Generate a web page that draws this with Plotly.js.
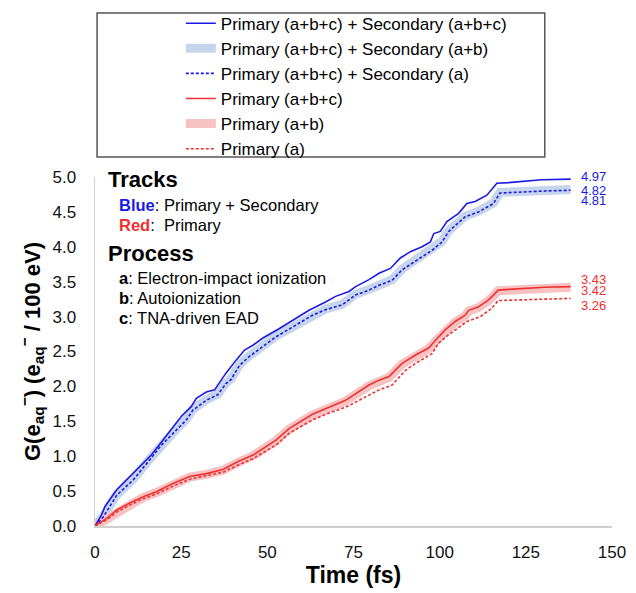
<!DOCTYPE html>
<html>
<head>
<meta charset="utf-8">
<script src="https://cdn.plot.ly/plotly-3.0.1.min.js"></script>
<style>
  html, body { margin: 0; padding: 0; background: #fff; }
  #chart { width: 636px; height: 593px; }
</style>
</head>
<body>
<div id="chart"></div>
<script>
// Cumulative G-value of hydrated electrons versus time (fs)

// Primary (a+b+c) + Secondary (a+b+c)
const tBlueABC = [0, 1.9, 2.9, 4.8, 6.3, 8.7, 10.1, 13, 16.4, 19.7, 22.6, 25, 27.9, 29.4, 32.3, 34.7, 36.6, 38, 41, 43.4, 45.8, 48.6, 53.5, 58.3, 62.1, 66.9, 69.8, 73.7, 75.6, 79.5, 82.4, 85.7, 88.6, 91.5, 94.9, 97.3, 98.3, 100.2, 102.1, 105.5, 107.9, 110.3, 113.7, 116.6, 120, 129.6, 138];
const gBlueABC = [0, 0.16, 0.28, 0.42, 0.52, 0.64, 0.71, 0.85, 1.02, 1.23, 1.42, 1.57, 1.71, 1.83, 1.92, 1.95, 2.09, 2.19, 2.38, 2.52, 2.59, 2.69, 2.83, 2.98, 3.09, 3.21, 3.29, 3.36, 3.43, 3.53, 3.62, 3.69, 3.84, 3.93, 4.00, 4.07, 4.19, 4.22, 4.36, 4.48, 4.62, 4.65, 4.74, 4.91, 4.92, 4.96, 4.97];

// Primary (a+b+c) + Secondary (a+b)
const tBlueAB = [0, 2.4, 6.3, 11.1, 15.9, 19.3, 23.1, 26.5, 28.4, 32.3, 35.6, 38, 39.5, 41.9, 44.8, 52.5, 58, 63.1, 67, 71.8, 75.6, 79.5, 82.4, 86.2, 89.1, 93, 97.8, 100.7, 102.6, 107.4, 111.3, 115.6, 117.5, 130.5, 138];
const gBlueAB = [0, 0.14, 0.45, 0.67, 0.96, 1.17, 1.36, 1.53, 1.67, 1.81, 1.89, 2.05, 2.11, 2.31, 2.44, 2.72, 2.88, 3.03, 3.11, 3.18, 3.32, 3.39, 3.46, 3.53, 3.68, 3.81, 3.96, 4.08, 4.23, 4.44, 4.51, 4.63, 4.78, 4.81, 4.82];

// Primary (a+b+c) + Secondary (a)
const tBlueA = [0, 2.4, 6.3, 11.1, 15.9, 19.3, 23.1, 26.5, 28.4, 32.3, 35.6, 38, 39.5, 41.9, 44.8, 52.5, 58, 63.1, 67, 71.8, 75.6, 79.5, 82.4, 86.2, 89.1, 93, 97.8, 100.7, 102.6, 107.4, 111.3, 115.6, 117.5, 130.5, 138];
const gBlueA = [0, 0.13, 0.44, 0.66, 0.95, 1.16, 1.35, 1.52, 1.66, 1.80, 1.88, 2.04, 2.10, 2.30, 2.43, 2.71, 2.87, 3.02, 3.10, 3.17, 3.31, 3.38, 3.45, 3.52, 3.67, 3.80, 3.95, 4.07, 4.22, 4.43, 4.50, 4.62, 4.77, 4.80, 4.81];

// Primary (a+b+c)
const tRedABC = [0, 3.4, 6.3, 10.1, 14, 17.8, 22.6, 27.5, 32.3, 37.1, 41.4, 46, 52.5, 56.4, 63.1, 68, 72.7, 79.5, 82.4, 85.3, 89.1, 93, 96.8, 98.8, 101.6, 104.5, 107.4, 108.4, 111.3, 114.2, 117, 120, 130.5, 138];
const gRedABC = [0, 0.11, 0.23, 0.33, 0.42, 0.49, 0.61, 0.71, 0.75, 0.81, 0.92, 1.02, 1.23, 1.40, 1.60, 1.70, 1.80, 2.02, 2.09, 2.14, 2.33, 2.45, 2.55, 2.66, 2.81, 2.93, 3.02, 3.09, 3.14, 3.24, 3.38, 3.39, 3.42, 3.43];

// Primary (a+b)
const tRedAB = [0, 3.4, 6.3, 10.1, 14, 17.8, 22.6, 27.5, 32.3, 37.1, 41.4, 46, 52.5, 56.4, 63.1, 68, 72.7, 79.5, 82.4, 85.3, 89.1, 93, 96.8, 98.8, 101.6, 104.5, 107.4, 108.4, 111.3, 114.2, 117, 120, 130.5, 138];
const gRedAB = [0, 0.10, 0.22, 0.32, 0.41, 0.48, 0.60, 0.70, 0.74, 0.80, 0.91, 1.01, 1.22, 1.39, 1.59, 1.69, 1.79, 2.01, 2.08, 2.13, 2.32, 2.44, 2.54, 2.65, 2.80, 2.92, 3.01, 3.08, 3.13, 3.23, 3.37, 3.38, 3.41, 3.42];

// Primary (a)
const tRedA = [0, 3.4, 6.3, 10.1, 14, 17.8, 22.6, 27.5, 32.3, 37.1, 41.4, 46, 52.5, 56.4, 63.1, 68, 72.7, 79.5, 82.4, 86.2, 90.1, 93, 97.8, 99.7, 102.6, 107.9, 111.8, 115.1, 117, 130.5, 138];
const gRedA = [0, 0.09, 0.20, 0.30, 0.39, 0.46, 0.57, 0.67, 0.72, 0.77, 0.87, 0.97, 1.16, 1.33, 1.52, 1.62, 1.70, 1.88, 1.95, 2.02, 2.23, 2.33, 2.47, 2.62, 2.74, 2.93, 3.00, 3.12, 3.23, 3.25, 3.26];

const legendNames = [
  'Primary (a+b+c) + Secondary (a+b+c)',
  'Primary (a+b+c) + Secondary (a+b)',
  'Primary (a+b+c) + Secondary (a)',
  'Primary (a+b+c)',
  'Primary (a+b)',
  'Primary (a)'
];

const xTickVals = [0, 25, 50, 75, 100, 125, 150];
const yTickVals = [0, 0.5, 1, 1.5, 2, 2.5, 3, 3.5, 4, 4.5, 5];

const BLUE = '#1a1ae6';
const BLUE_LIGHT = '#c6d4ec';
const RED = '#f03030';
const RED_LIGHT = '#f8c2c2';
const FONT = 'Liberation Sans, Arial, sans-serif';

// wide pale bands go underneath; legendrank keeps the legend order
const traces = [
  { x: tBlueAB, y: gBlueAB, name: legendNames[1], legendrank: 2, mode: 'lines',
    line: { color: BLUE_LIGHT, width: 9 } },
  { x: tRedAB, y: gRedAB, name: legendNames[4], legendrank: 5, mode: 'lines',
    line: { color: RED_LIGHT, width: 9 } },
  { x: tBlueABC, y: gBlueABC, name: legendNames[0], legendrank: 1, mode: 'lines',
    line: { color: BLUE, width: 1.6 } },
  { x: tBlueA, y: gBlueA, name: legendNames[2], legendrank: 3, mode: 'lines',
    line: { color: BLUE, width: 1.6, dash: '3px,2px' } },
  { x: tRedABC, y: gRedABC, name: legendNames[3], legendrank: 4, mode: 'lines',
    line: { color: RED, width: 1.6 } },
  { x: tRedA, y: gRedA, name: legendNames[5], legendrank: 6, mode: 'lines',
    line: { color: RED, width: 1.6, dash: '3px,2px' } }
];

// end-value labels, taken from the last point of each series
function endLabel(tArr, gArr, color, yshift) {
  const v = gArr[gArr.length - 1];
  return {
    x: tArr[tArr.length - 1], y: v, xref: 'x', yref: 'y',
    text: v.toFixed(2), showarrow: false, xanchor: 'left', yanchor: 'middle',
    xshift: 8, yshift: yshift,
    font: { family: FONT, size: 13, color: color }
  };
}

const txt = (text, y, size, x) => ({
  x: x, y: y, xref: 'paper', yref: 'paper', text: text, showarrow: false,
  xanchor: 'left', yanchor: 'middle', align: 'left',
  font: { family: FONT, size: size, color: '#000' }
});

const annotations = [
  endLabel(tBlueABC, gBlueABC, BLUE, 3),
  endLabel(tBlueAB, gBlueAB, BLUE, -1),
  endLabel(tBlueA, gBlueA, BLUE, -10),
  endLabel(tRedABC, gRedABC, RED, 7),
  endLabel(tRedAB, gRedAB, RED, -3),
  endLabel(tRedA, gRedA, RED, -7),
  txt('<b>Tracks</b>', 0.992, 22, 0.021),
  txt('<b><span style="color:#1a1ae6">Blue</span></b>: Primary + Secondary', 0.920, 16.5, 0.043),
  txt('<b><span style="color:#f03030">Red</span></b>:  Primary', 0.863, 16.5, 0.043),
  txt('<b>Process</b>', 0.782, 22, 0.021),
  txt('<b>a</b>: Electron-impact ionization', 0.710, 16.5, 0.043),
  txt('<b>b</b>: Autoionization', 0.653, 16.5, 0.043),
  txt('<b>c</b>: TNA-driven EAD', 0.596, 16.5, 0.043)
];

const layout = {
  width: 636, height: 593,
  margin: { l: 95, r: 24, t: 177, b: 67, autoexpand: false },
  paper_bgcolor: '#fff', plot_bgcolor: '#fff',
  font: { family: FONT, size: 16, color: '#111' },
  showlegend: true,
  legend: {
    x: 0.166, y: 1.491, xanchor: 'left', yanchor: 'top',
    bgcolor: 'rgba(0,0,0,0)', borderwidth: 0,
    font: { family: FONT, size: 17, color: '#000' },
    tracegroupgap: 0
  },
  xaxis: {
    range: [0, 150], tickvals: xTickVals, ticktext: xTickVals.map(String),
    showgrid: false, zeroline: false, showline: true, linecolor: '#cfcfcf', linewidth: 1.5,
    ticks: '', ticklabelstandoff: 10,
    tickfont: { family: FONT, size: 17, color: '#111' },
    title: { text: '<b>Time (fs)</b>', font: { family: FONT, size: 23, color: '#000' }, standoff: 4 }
  },
  yaxis: {
    range: [0, 5.0], tickvals: yTickVals, ticktext: yTickVals.map(v => v.toFixed(1)),
    showgrid: false, zeroline: false, showline: true, linecolor: '#cfcfcf', linewidth: 1.5,
    ticks: '', ticklabelstandoff: 14,
    tickfont: { family: FONT, size: 17, color: '#111' },
    title: {
      text: '<b>G(e<sub>aq</sub><sup>\u2212</sup>) (e<sub>aq</sub><sup>\u2212</sup> / 100 eV)</b>',
      font: { family: FONT, size: 22, color: '#000' }, standoff: 6
    }
  },
  shapes: [{
    type: 'rect', xref: 'paper', yref: 'paper',
    x0: 0.004, x1: 0.870, y0: 1.057, y1: 1.47,
    line: { color: '#555', width: 1.5 }, fillcolor: 'rgba(0,0,0,0)'
  }],
  annotations: annotations
};

Plotly.newPlot('chart', traces, layout, { displayModeBar: false, staticPlot: true });
</script>
</body>
</html>
